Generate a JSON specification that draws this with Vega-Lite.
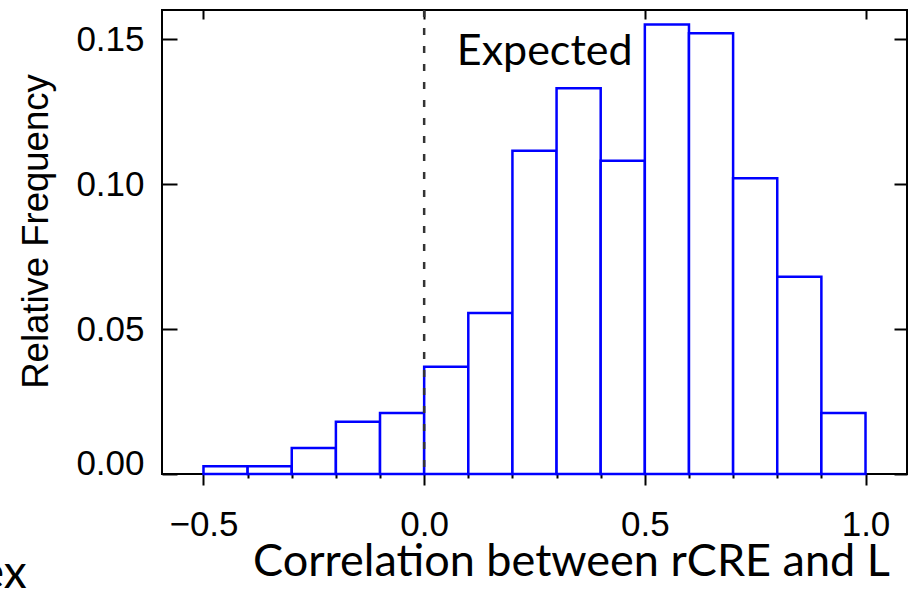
{
  "$schema": "https://vega.github.io/schema/vega-lite/v6.json",
  "width": 745,
  "height": 464,
  "autosize": {"type": "none"},
  "padding": {"left": 162, "top": 10, "right": 2, "bottom": 126},
  "background": "white",
  "config": {
    "view": {"stroke": "black", "strokeWidth": 2},
    "axis": {
      "grid": false,
      "domain": false,
      "tickColor": "black",
      "tickWidth": 2,
      "labelColor": "black",
      "labelFont": "Liberation Sans",
      "labelFontSize": 35,
      "labelFlush": false,
      "titleColor": "black",
      "titleFontWeight": "normal"
    }
  },
  "datasets": {
    "bins": [
      {"bin_start": -0.5, "bin_end": -0.4, "freq": 0.0027},
      {"bin_start": -0.4, "bin_end": -0.3, "freq": 0.0027},
      {"bin_start": -0.3, "bin_end": -0.2, "freq": 0.009},
      {"bin_start": -0.2, "bin_end": -0.1, "freq": 0.018},
      {"bin_start": -0.1, "bin_end": 0.0, "freq": 0.021},
      {"bin_start": 0.0, "bin_end": 0.1, "freq": 0.037},
      {"bin_start": 0.1, "bin_end": 0.2, "freq": 0.0555},
      {"bin_start": 0.2, "bin_end": 0.3, "freq": 0.1115},
      {"bin_start": 0.3, "bin_end": 0.4, "freq": 0.133},
      {"bin_start": 0.4, "bin_end": 0.5, "freq": 0.108},
      {"bin_start": 0.5, "bin_end": 0.6, "freq": 0.155},
      {"bin_start": 0.6, "bin_end": 0.7, "freq": 0.152},
      {"bin_start": 0.7, "bin_end": 0.8, "freq": 0.102},
      {"bin_start": 0.8, "bin_end": 0.9, "freq": 0.068},
      {"bin_start": 0.9, "bin_end": 1.0, "freq": 0.021}
    ],
    "notes": [
      {"x": 0.273, "y": 0.141, "label": "Expected", "size": 43},
      {"x": -0.954, "y": -0.0392, "label": "ex", "size": 46}
    ]
  },
  "resolve": {"axis": {"x": "independent", "y": "independent"}},
  "layer": [
    {
      "data": {"name": "bins"},
      "mark": {"type": "bar", "fill": "white", "stroke": "#0000ff", "strokeWidth": 2.5},
      "encoding": {
        "x": {
          "field": "bin_start",
          "type": "quantitative",
          "scale": {"domain": [-0.594, 1.094], "nice": false, "zero": false},
          "axis": {
            "orient": "bottom",
            "values": [-0.5, 0, 0.5, 1],
            "format": ".1f",
            "tickSize": 11,
            "labelPadding": 50,
            "labelBaseline": "alphabetic",
            "title": "Correlation between rCRE and L",
            "titleFont": "Lato",
            "titleFontSize": 45,
            "titleX": 409,
            "titleY": 101,
            "titleAlign": "center",
            "titleBaseline": "alphabetic"
          }
        },
        "x2": {"field": "bin_end"},
        "y": {
          "field": "freq",
          "type": "quantitative",
          "scale": {"domain": [0, 0.16], "nice": false},
          "axis": {
            "orient": "left",
            "values": [0, 0.05, 0.1, 0.15],
            "format": ".2f",
            "tickSize": -15,
            "labelPadding": 33,
            "labelBaseline": {"condition": {"test": "datum.value === 0", "value": "alphabetic"}, "value": "middle"},
            "title": "Relative Frequency",
            "titleFont": "Liberation Sans",
            "titleFontSize": 36.5,
            "titleAngle": -90,
            "titleX": -115,
            "titleY": 221,
            "titleAlign": "center",
            "titleBaseline": "alphabetic"
          }
        },
        "y2": {"datum": 0}
      }
    },
    {
      "data": {"values": [{"r": 0}]},
      "mark": {"type": "rule", "stroke": "#333333", "strokeWidth": 2.5, "strokeDash": [7, 11]},
      "encoding": {
        "x": {
          "field": "r",
          "type": "quantitative",
          "axis": {"orient": "top", "values": [-0.5, 0, 0.5, 1], "tickSize": -9, "labels": false, "title": null}
        }
      }
    },
    {
      "data": {"name": "notes"},
      "mark": {"type": "text", "font": "Lato", "color": "black", "baseline": "alphabetic", "align": "center"},
      "encoding": {
        "x": {
          "field": "x",
          "type": "quantitative",
          "axis": {"orient": "bottom", "values": [-0.4, -0.3, -0.2, -0.1, 0.1, 0.2, 0.3, 0.4, 0.6, 0.7, 0.8, 0.9], "tickSize": 4, "labels": false, "title": null}
        },
        "y": {
          "field": "y",
          "type": "quantitative",
          "axis": {"orient": "right", "values": [0, 0.05, 0.1, 0.15], "tickSize": -13, "labels": false, "title": null}
        },
        "text": {"field": "label"},
        "size": {"field": "size", "type": "quantitative", "scale": null}
      }
    }
  ]
}
